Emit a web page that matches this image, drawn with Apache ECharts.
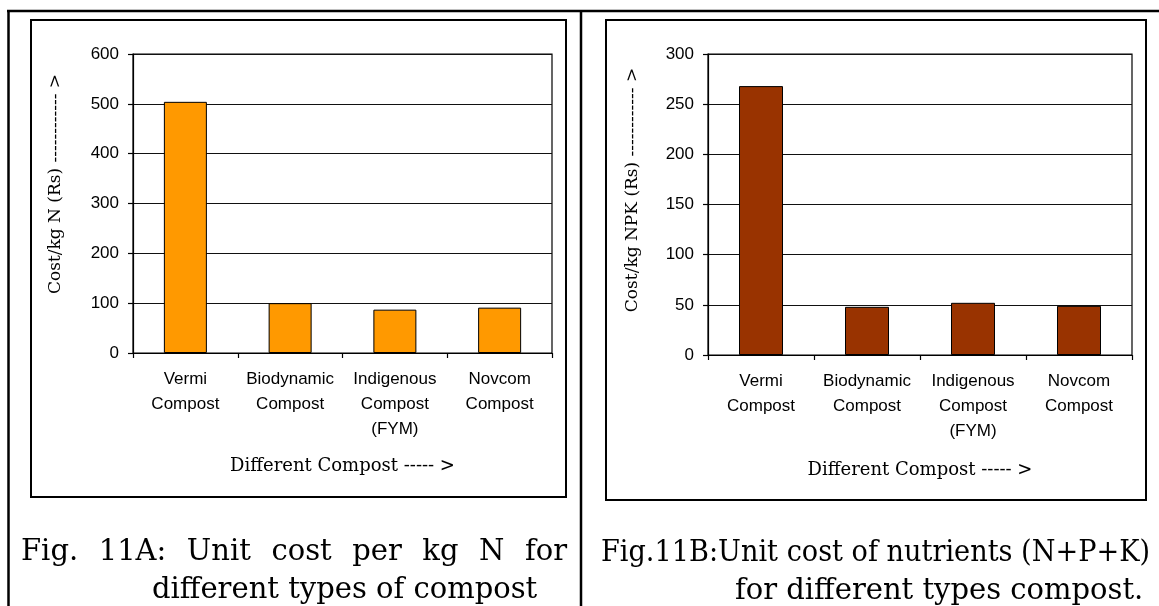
<!DOCTYPE html>
<html>
<head>
<meta charset="utf-8">
<script src="https://cdn.jsdelivr.net/npm/echarts@6/dist/echarts.min.js"></script>
<style>
  html, body { margin: 0; padding: 0; background: #ffffff; }
  #chart { width: 1159px; height: 606px; }
</style>
</head>
<body>
<div id="chart"></div>
<script>
// Compost types shown on both panels
const categories = ['Vermi\nCompost', 'Biodynamic\nCompost', 'Indigenous\nCompost\n(FYM)', 'Novcom\nCompost'];

// Unit cost per kg N (Rs)
const costPerKgN = [504, 100, 87, 91];
// Unit cost per kg NPK (Rs)
const costPerKgNPK = [268, 48, 52, 49];

// Value axis ranges
const axisN = { min: 0, max: 600, interval: 100 };
const axisNPK = { min: 0, max: 300, interval: 50 };

// Axis titles
const xTitle = 'Different Compost ----- >';
const yTitleN = 'Cost/kg N (Rs) ------------ >';
const yTitleNPK = 'Cost/kg NPK (Rs) ------------ >';

// Figure captions (two lines each)
const captionA = ['Fig. 11A: Unit cost per kg N for', 'different types of compost'];
const captionB = ['Fig.11B:Unit cost of nutrients (N+P+K)', 'for different types compost.'];

const SANS = '"Liberation Sans", Arial, sans-serif';
const SERIF = '"DejaVu Serif", serif';
const CAPTION_FONT = '29px "DejaVu Serif"';

const measureCtx = document.createElement('canvas').getContext('2d');

// Caption line: spread words to fill x0..x1, or squeeze the whole line when it is too long;
// with no x1 the line keeps its natural spacing.
function captionLine(line, x0, x1, y) {
  measureCtx.font = CAPTION_FONT;
  const natural = measureCtx.measureText(line).width;
  const textStyle = (t) => ({ text: t, font: CAPTION_FONT, fill: '#000', verticalAlign: 'middle', align: 'left' });
  if (x1 == null || natural >= x1 - x0) {
    const s = x1 == null ? 1 : (x1 - x0) / natural;
    return [{ type: 'text', x: x0, y: y, scaleX: s, silent: true, style: textStyle(line) }];
  }
  const words = line.split(' ');
  const widths = words.map(w => measureCtx.measureText(w).width);
  const total = widths.reduce((a, b) => a + b, 0);
  const gap = (x1 - x0 - total) / (words.length - 1);
  const out = [];
  let x = x0;
  words.forEach((w, i) => {
    out.push({ type: 'text', x: x, y: y, silent: true, style: textStyle(w) });
    x += widths[i] + gap;
  });
  return out;
}

function yTitle(text, cx, cy) {
  return {
    type: 'text', x: cx, y: cy, rotation: Math.PI / 2, silent: true,
    style: { text: text, font: '17px "DejaVu Serif"', fill: '#000', align: 'center', verticalAlign: 'middle' }
  };
}

function valueAxis(gridIndex, range) {
  return {
    gridIndex: gridIndex, type: 'value',
    min: range.min, max: range.max, interval: range.interval,
    axisLine: { show: true, lineStyle: { color: '#000', width: 1.2 } },
    axisTick: { show: true, length: 5, lineStyle: { color: '#000', width: 1.2 } },
    axisLabel: { color: '#000', fontFamily: SANS, fontSize: 17, margin: 14 },
    splitLine: { show: true, lineStyle: { color: '#111', width: 1.2 } }
  };
}

function categoryAxis(gridIndex, nameGap) {
  return {
    gridIndex: gridIndex, type: 'category', data: categories,
    axisLine: { show: true, lineStyle: { color: '#000', width: 1.2 } },
    axisTick: { show: true, length: 5, lineStyle: { color: '#000', width: 1.2 } },
    axisLabel: { color: '#000', fontFamily: SANS, fontSize: 17, lineHeight: 25, margin: 14, interval: 0 },
    name: xTitle, nameLocation: 'middle', nameGap: nameGap,
    nameTextStyle: { color: '#000', fontFamily: SERIF, fontSize: 18, verticalAlign: 'middle' }
  };
}

const chart = echarts.init(document.getElementById('chart'), null, { renderer: 'canvas' });

const graphics = [
  // table rules
  { type: 'line', silent: true, shape: { x1: 7, y1: 11, x2: 1159, y2: 11 }, style: { stroke: '#000', lineWidth: 2.5 } },
  { type: 'line', silent: true, shape: { x1: 8.5, y1: 10, x2: 8.5, y2: 606 }, style: { stroke: '#000', lineWidth: 2.5 } },
  { type: 'line', silent: true, shape: { x1: 581, y1: 10, x2: 581, y2: 606 }, style: { stroke: '#000', lineWidth: 2.5 } },
  // chart frames
  { type: 'rect', silent: true, shape: { x: 31, y: 20, width: 535, height: 477 }, style: { fill: 'none', stroke: '#000', lineWidth: 2 } },
  { type: 'rect', silent: true, shape: { x: 606, y: 20, width: 540, height: 480 }, style: { fill: 'none', stroke: '#000', lineWidth: 2 } },
  // rotated value-axis titles
  yTitle(yTitleN, 56, 184),
  yTitle(yTitleNPK, 633, 190)
].concat(
  captionLine(captionA[0], 21, 567, 552),
  captionLine(captionA[1], 152, null, 590),
  captionLine(captionB[0], 601, 1150, 553),
  captionLine(captionB[1], 735, null, 591)
);

chart.setOption({
  animation: false,
  backgroundColor: '#ffffff',
  grid: [
    { left: 133, top: 54, width: 419, height: 299, show: true, borderColor: '#000', borderWidth: 1.2, backgroundColor: '#fff' },
    { left: 708, top: 54, width: 424, height: 301, show: true, borderColor: '#000', borderWidth: 1.2, backgroundColor: '#fff' }
  ],
  xAxis: [categoryAxis(0, 113), categoryAxis(1, 115)],
  yAxis: [valueAxis(0, axisN), valueAxis(1, axisNPK)],
  series: [
    {
      type: 'bar', xAxisIndex: 0, yAxisIndex: 0, data: costPerKgN, barWidth: 43,
      itemStyle: { color: '#FF9900', borderColor: '#000', borderWidth: 1 }
    },
    {
      type: 'bar', xAxisIndex: 1, yAxisIndex: 1, data: costPerKgNPK, barWidth: 44,
      itemStyle: { color: '#993300', borderColor: '#000', borderWidth: 1 }
    }
  ],
  graphic: graphics
});
</script>
</body>
</html>
